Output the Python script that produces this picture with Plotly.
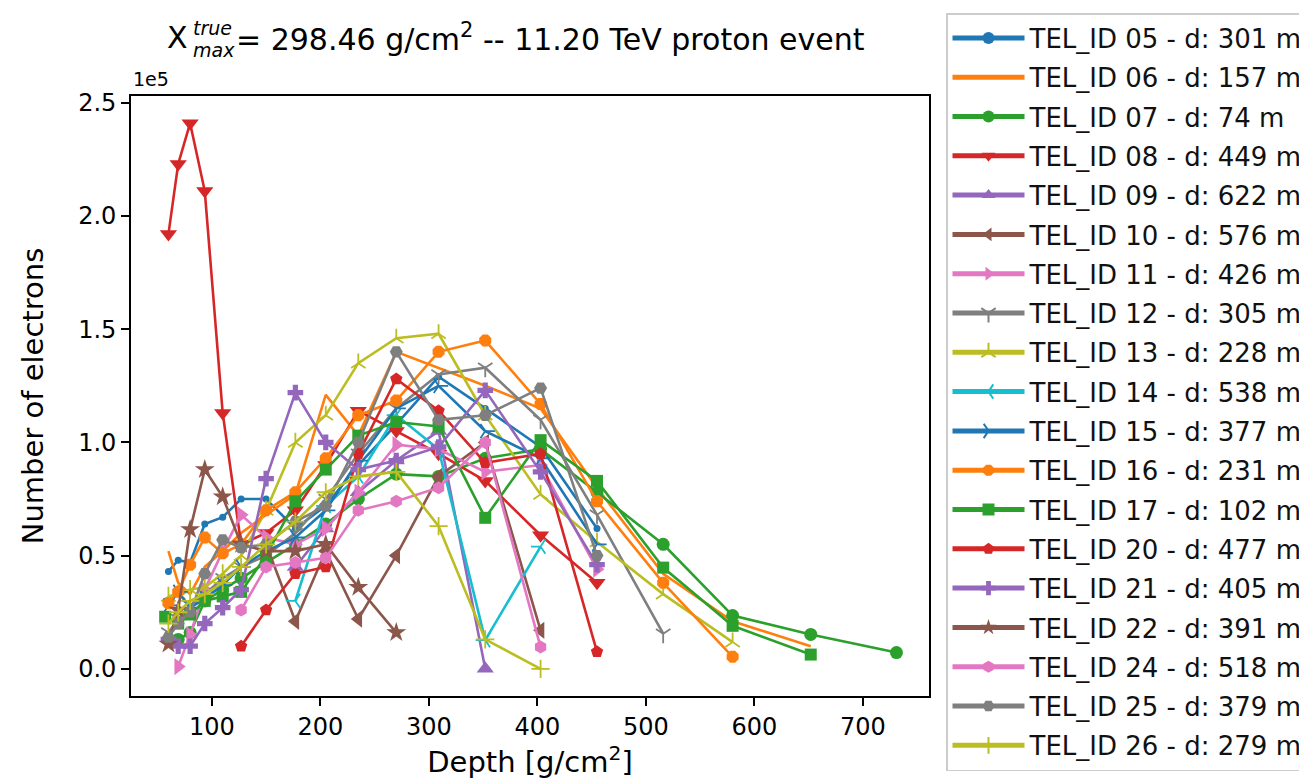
import plotly.graph_objects as go

# ---- data (depth in g/cm^2, number of electrons in units of 1e5) ----
tel05_depth = [60, 69, 80, 93.5, 110, 127, 150, 177, 205, 235, 270, 309, 352, 403, 455]
tel05_ne = [0.43, 0.48, 0.47, 0.64, 0.67, 0.75, 0.75, 0.62, 0.72, 0.90, 1.08, 1.29, 1.15, 0.98, 0.62]

tel06_depth = [60, 69, 80, 93.5, 110, 127, 150, 177, 205, 235, 270, 309, 352, 403, 455, 516, 580, 652]
tel06_ne = [0.52, 0.38, 0.33, 0.45, 0.52, 0.60, 0.68, 0.77, 1.21, 1.03, 1.40, 1.33, 1.25, 1.15, 0.80, 0.42, 0.21, 0.10]

tel07_depth = [69, 80, 93.5, 110, 127, 150, 177, 205, 235, 270, 309, 352, 403, 455, 516, 580, 652, 731]
tel07_ne = [0.13, 0.16, 0.30, 0.35, 0.40, 0.47, 0.55, 0.64, 0.75, 0.86, 0.85, 0.93, 0.97, 0.78, 0.55, 0.235, 0.152, 0.072]

tel08_depth = [60, 69, 80, 93.5, 110, 127, 150, 177, 205, 235, 270, 309, 352, 403, 455]
tel08_ne = [1.92, 2.23, 2.41, 2.11, 1.13, 0.55, 0.60, 0.70, 0.90, 1.14, 1.05, 0.95, 0.83, 0.59, 0.38]

tel09_depth = [177, 205, 235, 270, 309, 352]
tel09_ne = [0.45, 0.62, 0.78, 0.92, 1.05, 0.0]

tel10_depth = [150, 177, 205, 235, 270, 309, 352, 403]
tel10_ne = [0.55, 0.21, 0.52, 0.22, 0.50, 0.85, 1.00, 0.17]

tel11_depth = [69, 80, 93.5, 110, 127, 150, 177, 205, 235, 270, 309, 352, 403, 455]
tel11_ne = [0.01, 0.15, 0.35, 0.52, 0.68, 0.58, 0.55, 0.62, 0.78, 0.99, 0.97, 0.87, 0.90, 0.44]

tel12_depth = [60, 69, 80, 93.5, 110, 127, 150, 177, 205, 235, 270, 309, 352, 403, 455, 516]
tel12_ne = [0.16, 0.22, 0.28, 0.33, 0.40, 0.45, 0.50, 0.60, 0.75, 0.95, 1.15, 1.30, 1.33, 1.10, 0.68, 0.155]

tel13_depth = [60, 69, 80, 93.5, 110, 127, 150, 177, 205, 235, 270, 309, 352, 403, 455, 516, 580]
tel13_ne = [0.32, 0.33, 0.35, 0.36, 0.42, 0.50, 0.70, 1.00, 1.12, 1.35, 1.46, 1.48, 1.12, 0.77, 0.56, 0.33, 0.118]

tel14_depth = [177, 205, 235, 270, 309, 352, 403]
tel14_ne = [0.30, 0.72, 0.85, 1.12, 0.97, 0.127, 0.54]

tel15_depth = [60, 69, 80, 93.5, 110, 127, 150, 177, 205, 235, 270, 309, 352, 403, 455]
tel15_ne = [0.28, 0.34, 0.27, 0.31, 0.37, 0.45, 0.52, 0.58, 0.70, 0.92, 1.15, 1.25, 1.05, 0.93, 0.55]

tel16_depth = [60, 69, 80, 93.5, 110, 127, 150, 177, 205, 235, 270, 309, 352, 403, 455, 516, 580]
tel16_ne = [0.29, 0.34, 0.46, 0.58, 0.51, 0.55, 0.70, 0.78, 0.93, 1.12, 1.185, 1.40, 1.45, 1.17, 0.74, 0.38, 0.053]

tel17_depth = [57, 69, 80, 93.5, 110, 127, 150, 177, 205, 235, 270, 309, 352, 403, 455, 516, 580, 652]
tel17_ne = [0.23, 0.20, 0.24, 0.30, 0.32, 0.34, 0.50, 0.74, 0.88, 1.03, 1.09, 1.07, 0.667, 1.01, 0.83, 0.447, 0.19, 0.063]

tel20_depth = [127, 150, 177, 205, 235, 270, 309, 352, 403, 455]
tel20_ne = [0.10, 0.26, 0.42, 0.45, 0.95, 1.28, 1.14, 0.91, 0.95, 0.075]

tel21_depth = [60, 69, 80, 93.5, 110, 127, 150, 177, 205, 235, 270, 309, 352, 403, 455]
tel21_ne = [0.13, 0.10, 0.10, 0.20, 0.27, 0.35, 0.84, 1.22, 1.00, 0.88, 0.92, 0.98, 1.23, 0.87, 0.46]

tel22_depth = [60, 69, 80, 93.5, 110, 127, 150, 177, 205, 235, 270]
tel22_ne = [0.11, 0.26, 0.615, 0.88, 0.76, 0.55, 0.52, 0.52, 0.55, 0.36, 0.16]

tel24_depth = [127, 150, 177, 205, 235, 270, 309, 352, 403]
tel24_ne = [0.26, 0.45, 0.47, 0.49, 0.70, 0.74, 0.80, 1.00, 0.096]

tel25_depth = [60, 69, 80, 93.5, 110, 127, 150, 177, 205, 235, 270, 309, 352, 403, 455]
tel25_ne = [0.14, 0.20, 0.25, 0.42, 0.57, 0.535, 0.55, 0.65, 0.72, 1.00, 1.40, 1.10, 1.12, 1.24, 0.50]

tel26_depth = [60, 69, 80, 93.5, 110, 127, 150, 177, 205, 235, 270, 309, 352, 403]
tel26_ne = [0.20, 0.25, 0.30, 0.33, 0.38, 0.45, 0.55, 0.65, 0.78, 0.85, 0.87, 0.63, 0.13, 0.0]

tel_labels = ["TEL_ID 05 - d: 301 m", "TEL_ID 06 - d: 157 m", "TEL_ID 07 - d: 74 m",
              "TEL_ID 08 - d: 449 m", "TEL_ID 09 - d: 622 m", "TEL_ID 10 - d: 576 m",
              "TEL_ID 11 - d: 426 m", "TEL_ID 12 - d: 305 m", "TEL_ID 13 - d: 228 m",
              "TEL_ID 14 - d: 538 m", "TEL_ID 15 - d: 377 m", "TEL_ID 16 - d: 231 m",
              "TEL_ID 17 - d: 102 m", "TEL_ID 20 - d: 477 m", "TEL_ID 21 - d: 405 m",
              "TEL_ID 22 - d: 391 m", "TEL_ID 24 - d: 518 m", "TEL_ID 25 - d: 379 m",
              "TEL_ID 26 - d: 279 m"]

x_ticks = [100, 200, 300, 400, 500, 600, 700]
y_ticks = [0.0, 0.5, 1.0, 1.5, 2.0, 2.5]
y_ticklabels = ["0.0", "0.5", "1.0", "1.5", "2.0", "2.5"]

# ---- styling ----
C = ["#1f77b4", "#ff7f0e", "#2ca02c", "#d62728", "#9467bd",
     "#8c564b", "#e377c2", "#7f7f7f", "#bcbd22", "#17becf"]
series = [
    (tel05_depth, tel05_ne, C[0], "circle", 7, False),
    (tel06_depth, tel06_ne, C[1], None, 0, False),
    (tel07_depth, tel07_ne, C[2], "circle", 13, False),
    (tel08_depth, tel08_ne, C[3], "triangle-down", 15, False),
    (tel09_depth, tel09_ne, C[4], "triangle-up", 15, False),
    (tel10_depth, tel10_ne, C[5], "triangle-left", 15, False),
    (tel11_depth, tel11_ne, C[6], "triangle-right", 15, False),
    (tel12_depth, tel12_ne, C[7], "y-down-open", 12, True),
    (tel13_depth, tel13_ne, C[8], "y-up-open", 12, True),
    (tel14_depth, tel14_ne, C[9], "y-left-open", 12, True),
    (tel15_depth, tel15_ne, C[0], "y-right-open", 12, True),
    (tel16_depth, tel16_ne, C[1], "octagon", 13, False),
    (tel17_depth, tel17_ne, C[2], "square", 12, False),
    (tel20_depth, tel20_ne, C[3], "pentagon", 13, False),
    (tel21_depth, tel21_ne, C[4], "cross", 13, False),
    (tel22_depth, tel22_ne, C[5], "star", 15, False),
    (tel24_depth, tel24_ne, C[6], "hexagon", 13, False),
    (tel25_depth, tel25_ne, C[7], "hexagon2", 13, False),
    (tel26_depth, tel26_ne, C[8], "cross-thin-open", 13, True),
]

fig = go.Figure()
for i, (xs, ys, col, sym, size, is_open) in enumerate(series):
    if sym is None:
        fig.add_trace(go.Scatter(x=xs, y=ys, mode="lines", name=tel_labels[i],
                                 legendgroup=str(i),
                                 line=dict(color=col, width=2.6)))
    else:
        fig.add_trace(go.Scatter(
            x=xs, y=ys, mode="lines+markers", name=tel_labels[i],
            legendgroup=str(i),
            line=dict(color=col, width=2.6),
            marker=dict(symbol=sym, size=size, color=col,
                        line=dict(width=1.8 if is_open else 0, color=col))))

L, R, T, B = 123, 386, 88, 92
W, H = 1307, 780
pw, ph = W - L - R, H - T - B


def px2paper(px, py):
    return (px - L) / pw, (H - B - py) / ph


axis_common = dict(showline=True, linecolor="#000", linewidth=1.6, mirror=True,
                   ticks="outside", ticklen=8, tickwidth=1.6, tickcolor="#000",
                   showgrid=False, zeroline=False,
                   tickfont=dict(size=24, color="#000"))

fig.update_layout(
    width=W, height=H,
    margin=dict(l=L, r=R, t=T, b=B, autoexpand=False),
    plot_bgcolor="white", paper_bgcolor="white",
    font=dict(family="DejaVu Sans", color="#000"),
    xaxis=dict(range=[25.5, 761], tickvals=x_ticks,
               title=dict(text="Depth [g/cm<sup>2</sup>]", font=dict(size=29), standoff=12),
               **axis_common),
    yaxis=dict(range=[-0.12, 2.53], tickvals=y_ticks, ticktext=y_ticklabels,
               title=dict(text="Number of electrons", font=dict(size=29), standoff=26),
               **axis_common),
    legend=dict(x=px2paper(938, 0)[0], y=px2paper(0, 5)[1], xanchor="left", yanchor="top",
                font=dict(size=26, color="#111"), bordercolor="#cccccc", borderwidth=1.5,
                bgcolor="white", tracegroupgap=2.5, itemwidth=72, itemsizing="constant",
                maxheight=1.0),
    showlegend=True,
)

# title pieces (stacked super/subscript on X), centered over the axes
cx = L + pw / 2
x_start = cx - 362
ax, ay = px2paper(x_start + 22, 30)
fig.add_annotation(text="X", x=ax, y=ay, xref="paper", yref="paper", xanchor="right",
                   yanchor="middle", showarrow=False, font=dict(size=30))
ax, ay = px2paper(x_start + 23, 20)
fig.add_annotation(text="<i>true</i>", x=ax, y=ay, xref="paper", yref="paper", xanchor="left",
                   yanchor="middle", showarrow=False, font=dict(size=19))
ax, ay = px2paper(x_start + 23, 42)
fig.add_annotation(text="<i>max</i>", x=ax, y=ay, xref="paper", yref="paper", xanchor="left",
                   yanchor="middle", showarrow=False, font=dict(size=19))
ax, ay = px2paper(x_start + 66, 30)
fig.add_annotation(text="= 298.46 g/cm<sup>2</sup> -- 11.20 TeV proton event", x=ax, y=ay,
                   xref="paper", yref="paper", xanchor="left", yanchor="middle",
                   showarrow=False, font=dict(size=30))
ax, ay = px2paper(123, 71)
fig.add_annotation(text="1e5", x=ax, y=ay, xref="paper", yref="paper", xanchor="left",
                   yanchor="middle", showarrow=False, font=dict(size=19))

fig.write_html("out.html")
